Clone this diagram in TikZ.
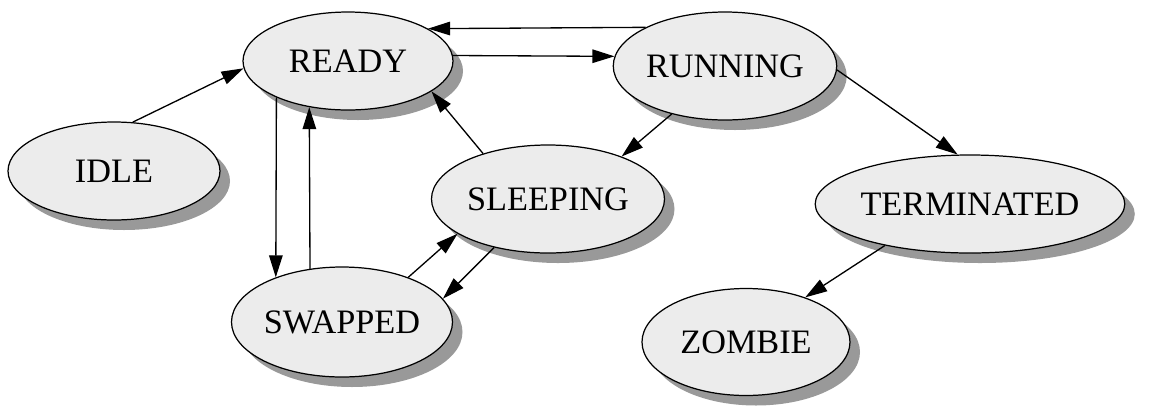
\documentclass[tikz,border=0pt]{standalone}
\usepackage{fontspec}
\setmainfont{Liberation Serif}
\newfontfamily\statefont{Liberation Serif}
\usetikzlibrary{shapes.geometric, shadows, arrows.meta}

\begin{document}
\begin{tikzpicture}[
    state/.style={ellipse, draw, fill=gray!15, line width=0.7pt, inner sep=0pt,
      font=\statefont\fontsize{19.5}{22}\selectfont,
      drop shadow={shadow xshift=0.2cm, shadow yshift=-0.2cm, fill=black!40, opacity=1}},
    >={Triangle[length=0.44cm, width=0.27cm]}, line width=0.75pt]
    \useasboundingbox (0, 0) rectangle (23.02, -8.10);

    % States
    \node[state, minimum width=4.20cm, minimum height=1.96cm] at (6.96, -1.22) (ready) {READY};
    \node[state, minimum width=4.20cm, minimum height=2.16cm] at (14.50, -1.32) (running) {RUNNING};
    \node[state, minimum width=4.24cm, minimum height=1.96cm] at (2.28, -3.42) (idle) {IDLE};
    \node[state, minimum width=4.66cm, minimum height=2.16cm] at (10.96, -3.98) (sleeping) {SLEEPING};
    \node[state, minimum width=4.42cm, minimum height=2.20cm] at (6.84, -6.44) (swapped) {SWAPPED};
    \node[state, minimum width=5.92cm, minimum height=1.96cm] at (19.40, -4.08) (terminated) {TERMINATED};
    \node[state, minimum width=4.16cm, minimum height=2.14cm] at (14.92, -6.84) (zombie) {ZOMBIE};

    % Transitions
    \draw[->] (idle.69) -- (ready.184);
    \draw[->] (ready.3) -- (running.175);
    \draw[->] (running.154) -- (ready.22);
    \draw[->] (ready.207) -- (swapped.146);
    \draw[->] (swapped.121) -- (ready.230);
    \draw[->] (sleeping.145) -- (ready.340);
    \draw[->] (running.222) -- (sleeping.30);
    \draw[->] (swapped.34) -- (sleeping.201);
    \draw[->] (sleeping.222) -- (swapped.13);
    \draw[->] (running.358) -- (terminated.104);
    \draw[->] (terminated.206) -- (zombie.37);

  \end{tikzpicture}
\end{document}
